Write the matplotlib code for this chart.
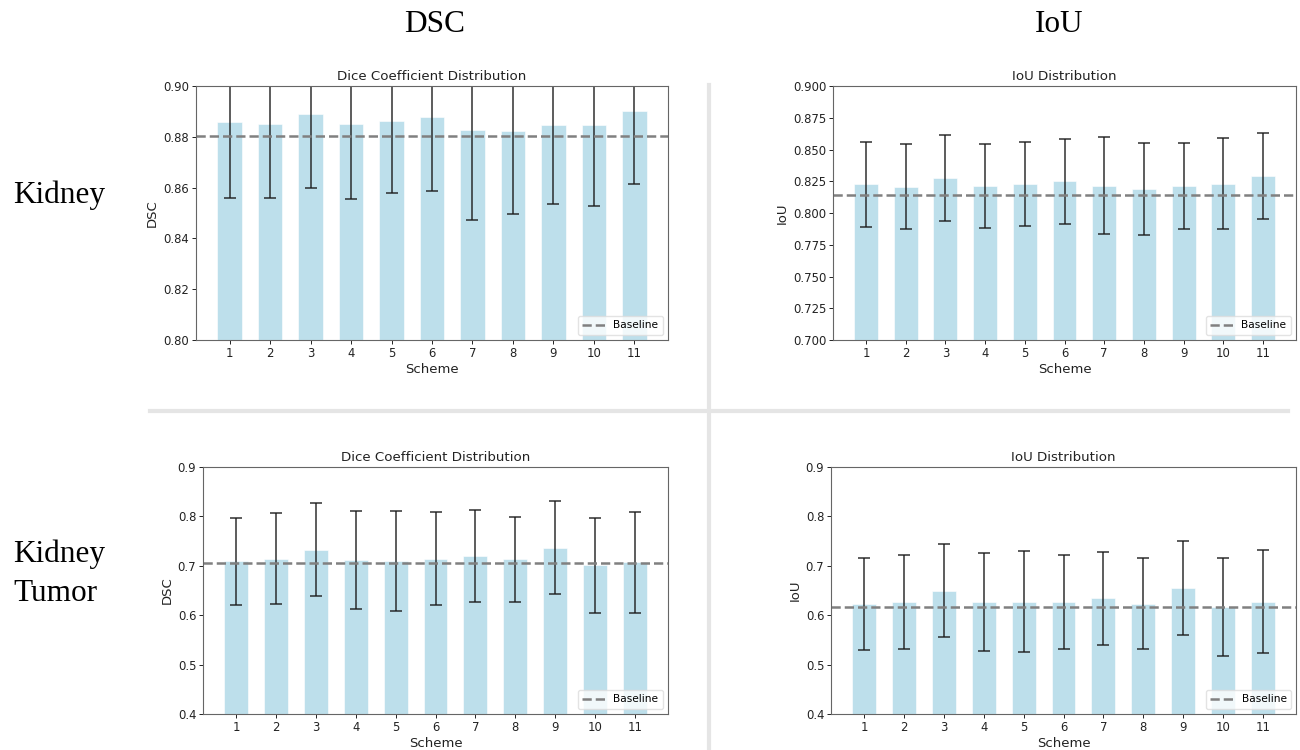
import matplotlib
matplotlib.use("Agg")
import matplotlib.pyplot as plt
import numpy as np
from matplotlib.lines import Line2D

schemes = np.arange(1, 12)

# Kidney
kid_dsc = [0.8858, 0.8850, 0.8889, 0.8852, 0.8863, 0.8876, 0.8825, 0.8821, 0.8846, 0.8847, 0.8903]
kid_dsc_err = [0.0300, 0.0291, 0.0290, 0.0296, 0.0284, 0.0289, 0.0353, 0.0324, 0.0310, 0.0319, 0.0289]
kid_dsc_base = 0.8805

kid_iou = [0.8226, 0.8208, 0.8273, 0.8213, 0.8226, 0.8250, 0.8216, 0.8190, 0.8213, 0.8229, 0.8292]
kid_iou_err = [0.0335, 0.0333, 0.0338, 0.0331, 0.0332, 0.0336, 0.0381, 0.0362, 0.0341, 0.0358, 0.0336]
kid_iou_base = 0.8142

# Kidney tumor
tum_dsc = [0.7089, 0.7143, 0.7324, 0.7116, 0.7102, 0.7143, 0.7197, 0.7129, 0.7365, 0.7008, 0.7069]
tum_dsc_err = [0.0885, 0.0925, 0.0940, 0.0990, 0.1010, 0.0940, 0.0935, 0.0855, 0.0940, 0.0960, 0.1030]
tum_dsc_base = 0.7055

tum_iou = [0.6221, 0.6275, 0.6497, 0.6275, 0.6275, 0.6275, 0.6342, 0.6235, 0.6557, 0.6174, 0.6275]
tum_iou_err = [0.0930, 0.0950, 0.0940, 0.0990, 0.1030, 0.0950, 0.0940, 0.0920, 0.0950, 0.0990, 0.1050]
tum_iou_base = 0.6167


def barplot(ax, vals, errs, base, title, ylabel, ylim, yticks, fmt):
    ax.bar(schemes, vals, width=0.6, color="lightblue", alpha=0.8, edgecolor="white", linewidth=0.5)
    ax.errorbar(schemes, vals, yerr=errs, fmt="none", ecolor="#1a1a1a",
                elinewidth=1.1, capsize=4, capthick=1.1, alpha=0.9)
    ax.axhline(base, color="gray", linestyle="--", linewidth=1.8, label="Baseline")
    ax.set_ylim(*ylim)
    ax.set_yticks(yticks)
    ax.set_yticklabels([fmt.format(t) for t in yticks])
    ax.set_xticks(schemes)
    ax.set_title(title, fontsize=9.6, pad=4, color="#222222")
    ax.set_xlabel("Scheme", fontsize=9.5, labelpad=2.5, color="#222222")
    ax.set_ylabel(ylabel, fontsize=9.5, labelpad=3, color="#222222")
    ax.tick_params(labelsize=8.4, length=2.8, width=0.7, pad=2, colors="#222222")
    for s in ax.spines.values():
        s.set_color("#666666")
        s.set_linewidth(0.8)
    ax.legend(loc="lower right", fontsize=7.6, framealpha=0.8, borderpad=0.4,
              handlelength=2.2, edgecolor="#dddddd", fancybox=True)


W, H = 1300.0, 750.0


def px_axes(x0, x1, y0, y1):
    # axes from pixel edges (top-left origin)
    return fig.add_axes([x0 / W, 1 - y1 / H, (x1 - x0) / W, (y1 - y0) / H])


fig = plt.figure(figsize=(13, 7.5), dpi=100)

ax1 = px_axes(196, 668, 86, 340)
ax2 = px_axes(833, 1296, 86, 340)
ax3 = px_axes(203, 668, 467, 714)
ax4 = px_axes(831, 1296, 467, 714)

barplot(ax1, kid_dsc, kid_dsc_err, kid_dsc_base, "Dice Coefficient Distribution", "DSC",
        (0.80, 0.90), np.arange(0.80, 0.901, 0.02), "{:.2f}")
barplot(ax2, kid_iou, kid_iou_err, kid_iou_base, "IoU Distribution", "IoU",
        (0.70, 0.90), np.arange(0.70, 0.901, 0.025), "{:.3f}")
barplot(ax3, tum_dsc, tum_dsc_err, tum_dsc_base, "Dice Coefficient Distribution", "DSC",
        (0.4, 0.9), np.arange(0.4, 0.901, 0.1), "{:.1f}")
barplot(ax4, tum_iou, tum_iou_err, tum_iou_base, "IoU Distribution", "IoU",
        (0.4, 0.9), np.arange(0.4, 0.901, 0.1), "{:.1f}")

# separators
fig.add_artist(Line2D([150 / W, 1288 / W], [1 - 411 / H, 1 - 411 / H], transform=fig.transFigure,
                      color="#e5e5e5", linewidth=3))
fig.add_artist(Line2D([709 / W, 709 / W], [0.0, 1 - 85 / H], transform=fig.transFigure,
                      color="#e5e5e5", linewidth=3))

serif = ["Liberation Serif", "DejaVu Serif"]
fig.text(0.334, 0.957, "DSC", family=serif, fontsize=22.5, ha="center", va="baseline")
fig.text(0.815, 0.957, "IoU", family=serif, fontsize=22.5, ha="center", va="baseline")
fig.text(0.010, 0.729, "Kidney", family=serif, fontsize=22.5, ha="left", va="baseline")
fig.text(0.010, 0.235, "Kidney\nTumor", family=serif, fontsize=22.5, ha="left", va="center",
         linespacing=1.45)

plt.savefig("out.png", dpi=100)
